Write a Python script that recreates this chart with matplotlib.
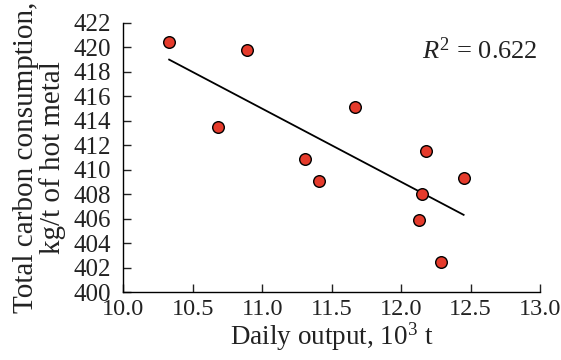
import numpy as np
import matplotlib
matplotlib.use('Agg')
import matplotlib.pyplot as plt

# Daily output (10^3 t) and total carbon consumption (kg/t of hot metal)
daily_output = [10.33, 10.89, 10.68, 11.31, 11.41, 11.67, 12.18, 12.15, 12.45, 12.13, 12.29]
carbon_consumption = [420.4, 419.8, 413.5, 410.9, 409.1, 415.1, 411.55, 408.0, 409.3, 405.9, 402.5]
x_ticks = [10.0, 10.5, 11.0, 11.5, 12.0, 12.5, 13.0]
y_ticks = list(range(400, 423, 2))
r_squared = 0.622

plt.rcParams['font.family'] = ['Liberation Serif', 'DejaVu Serif']
plt.rcParams['mathtext.fontset'] = 'custom'
plt.rcParams['mathtext.rm'] = 'Liberation Serif'
plt.rcParams['mathtext.it'] = 'Liberation Serif:italic'

text_color = '#222222'

fig = plt.figure(figsize=(5.61, 3.6), dpi=100)
ax = fig.add_axes([0.2198, 0.188, 0.9626 - 0.2198, 0.937 - 0.188])

# Linear fit through the points
x = np.array(daily_output)
y = np.array(carbon_consumption)
slope, intercept = np.polyfit(x, y, 1)
x_fit = np.array([x.min(), x.max()])
ax.plot(x_fit, slope * x_fit + intercept, color='black', lw=1.3, zorder=2)

ax.scatter(x, y, s=70, color='#e53b2c', edgecolor='black', linewidth=1.0, zorder=3)

ax.set_xlim(10.0, 13.0)
ax.set_ylim(400, 422)
ax.set_xticks(x_ticks)
ax.set_xticklabels(['%.1f' % t for t in x_ticks])
ax.set_yticks(y_ticks)
ax.tick_params(direction='in', length=6, width=1, colors=text_color)
ax.tick_params(axis='y', pad=9, labelsize=18)
ax.tick_params(axis='x', pad=5, labelsize=17.5)
for side in ['top', 'right']:
    ax.spines[side].set_visible(False)
for side in ['left', 'bottom']:
    ax.spines[side].set_linewidth(1)

ax.set_xlabel(r'Daily output, 10$^3$ t', fontsize=19.5, color=text_color, labelpad=0)
ax.set_ylabel('Total carbon consumption,\nkg/t of hot metal', fontsize=21,
              color=text_color, labelpad=5, linespacing=1.0)
ax.text(0.995, 0.895, r'$R^2$ = %.3f' % r_squared, transform=ax.transAxes,
        ha='right', va='center', fontsize=19, color=text_color)

fig.savefig('out.png', dpi=100)
